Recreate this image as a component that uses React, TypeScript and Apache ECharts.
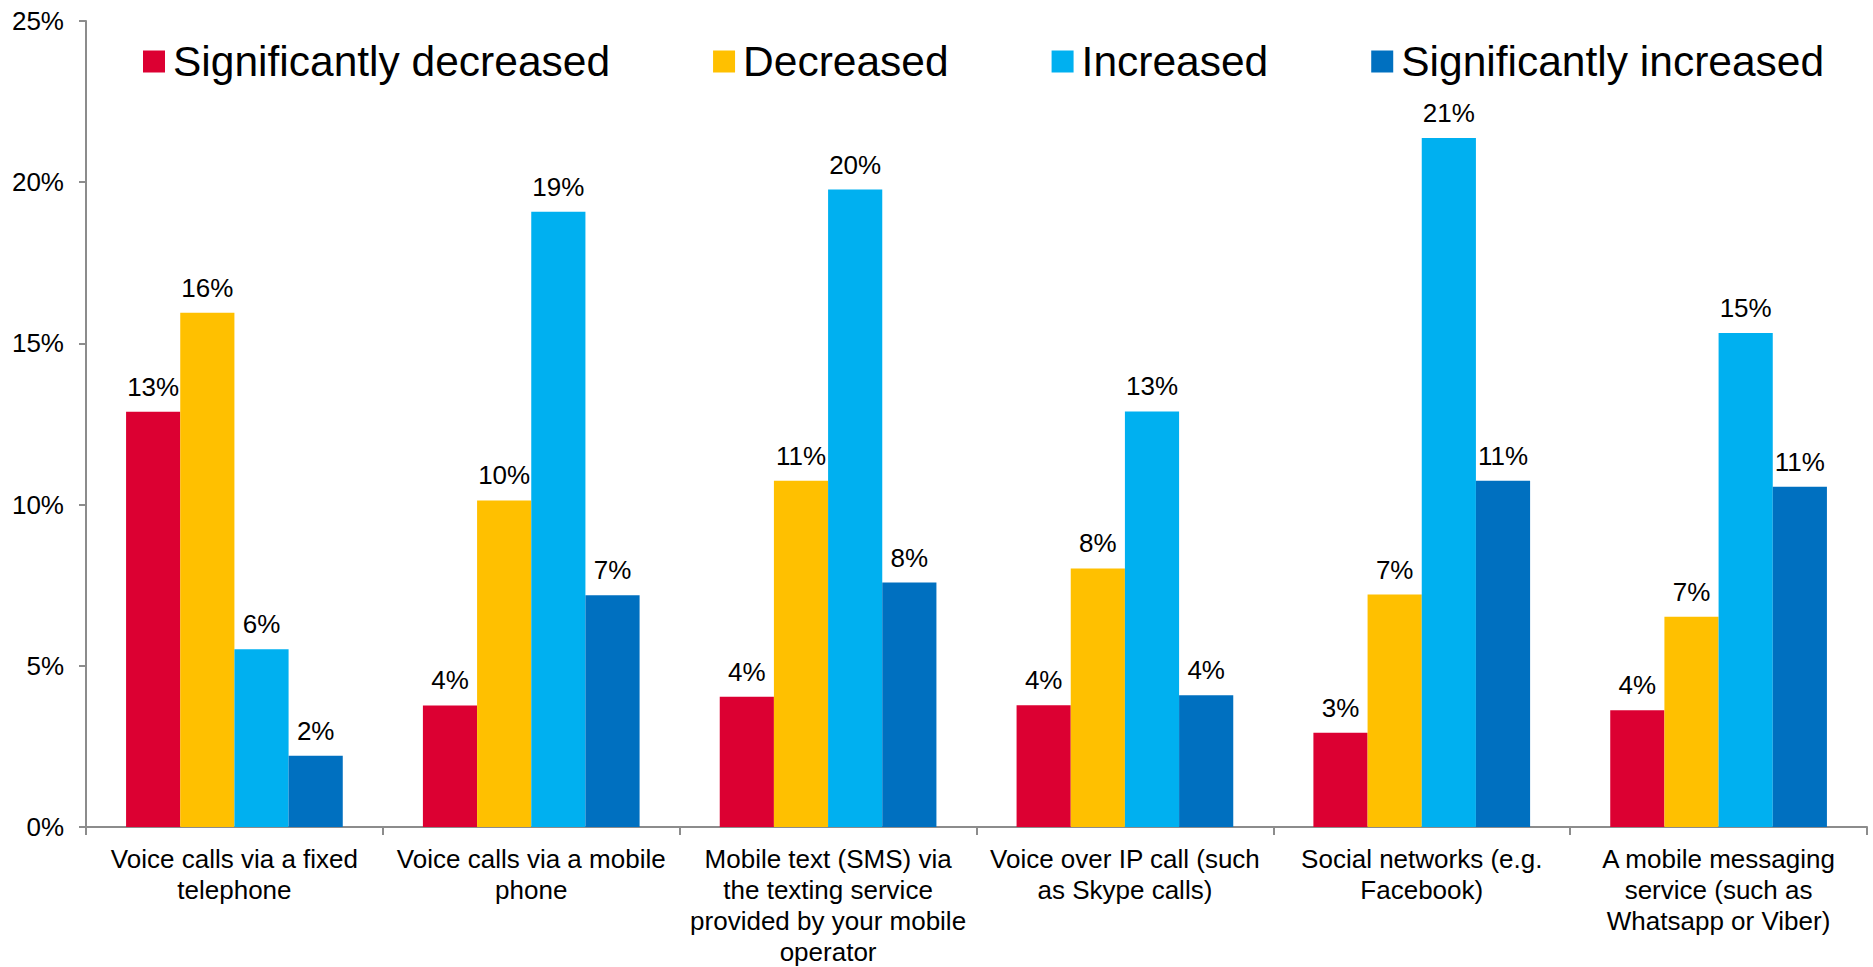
import React, { useEffect, useRef } from "react";
import * as echarts from "echarts";

const categories = [
  "Voice calls via a fixed\ntelephone",
  "Voice calls via a mobile\nphone",
  "Mobile text (SMS) via\nthe texting service\nprovided by your mobile\noperator",
  "Voice over IP call (such\nas Skype calls)",
  "Social networks (e.g.\nFacebook)",
  "A mobile messaging\nservice (such as\nWhatsapp or Viber)",
];

const seriesNames = [
  "Significantly decreased",
  "Decreased",
  "Increased",
  "Significantly increased",
];

const significantlyDecreased = [12.88, 3.77, 4.04, 3.78, 2.92, 3.62];
const decreased = [15.95, 10.13, 10.74, 8.02, 7.21, 6.52];
const increased = [5.51, 19.08, 19.77, 12.89, 21.37, 15.32];
const significantlyIncreased = [2.21, 7.19, 7.58, 4.09, 10.74, 10.55];

const colors = ["#DC0032", "#FFC000", "#00B0F0", "#0070C0"];

const yTicks = { min: 0, max: 25, interval: 5 };

const FONT = "'Liberation Sans', Arial, sans-serif";

export default function App() {
  const ref = useRef<HTMLDivElement>(null);

  useEffect(() => {
    if (!ref.current) return;
    const chart = echarts.init(ref.current, null, { renderer: "svg" });
    const values = [significantlyDecreased, decreased, increased, significantlyIncreased];
    chart.setOption({
      animation: false,
      textStyle: { fontFamily: FONT, color: "#000" },
      legend: {
        left: 138,
        top: 35,
        icon: "rect",
        itemWidth: 22,
        itemHeight: 22,
        itemGap: 103,
        textStyle: { fontSize: 42.5, color: "#000", fontFamily: FONT, padding: [0, 0, 0, 3] },
        data: seriesNames,
      },
      grid: { left: 86, right: 6, top: 21, bottom: 138, containLabel: false },
      xAxis: {
        type: "category",
        data: categories,
        boundaryGap: true,
        axisLine: { show: true, lineStyle: { color: "#8c8c8c", width: 2 } },
        axisTick: { show: true, length: 8, alignWithLabel: false, lineStyle: { color: "#8c8c8c", width: 2 } },
        axisLabel: {
          interval: 0,
          fontSize: 26,
          lineHeight: 31,
          color: "#000",
          fontFamily: FONT,
          margin: 16,
        },
      },
      yAxis: {
        type: "value",
        min: yTicks.min,
        max: yTicks.max,
        interval: yTicks.interval,
        splitLine: { show: false },
        axisLine: { show: true, lineStyle: { color: "#8c8c8c", width: 2 } },
        axisTick: { show: true, length: 7, lineStyle: { color: "#8c8c8c", width: 2 } },
        axisLabel: {
          fontSize: 26,
          color: "#000",
          fontFamily: FONT,
          margin: 22,
          formatter: (v: number) => `${v}%`,
        },
      },
      series: seriesNames.map((name, i) => ({
        name,
        type: "bar",
        data: values[i],
        barGap: "0%",
        barCategoryGap: "27%",
        itemStyle: { color: colors[i] },
        label: {
          show: true,
          position: "top",
          distance: 12,
          fontSize: 26,
          color: "#000",
          fontFamily: FONT,
          formatter: (p: any) => `${Math.round(p.value)}%`,
        },
      })),
    });
    return () => chart.dispose();
  }, []);

  return (
    <div
      ref={ref}
      style={{ position: "fixed", left: 0, top: 0, width: 1873, height: 967, background: "#fff" }}
    />
  );
}
